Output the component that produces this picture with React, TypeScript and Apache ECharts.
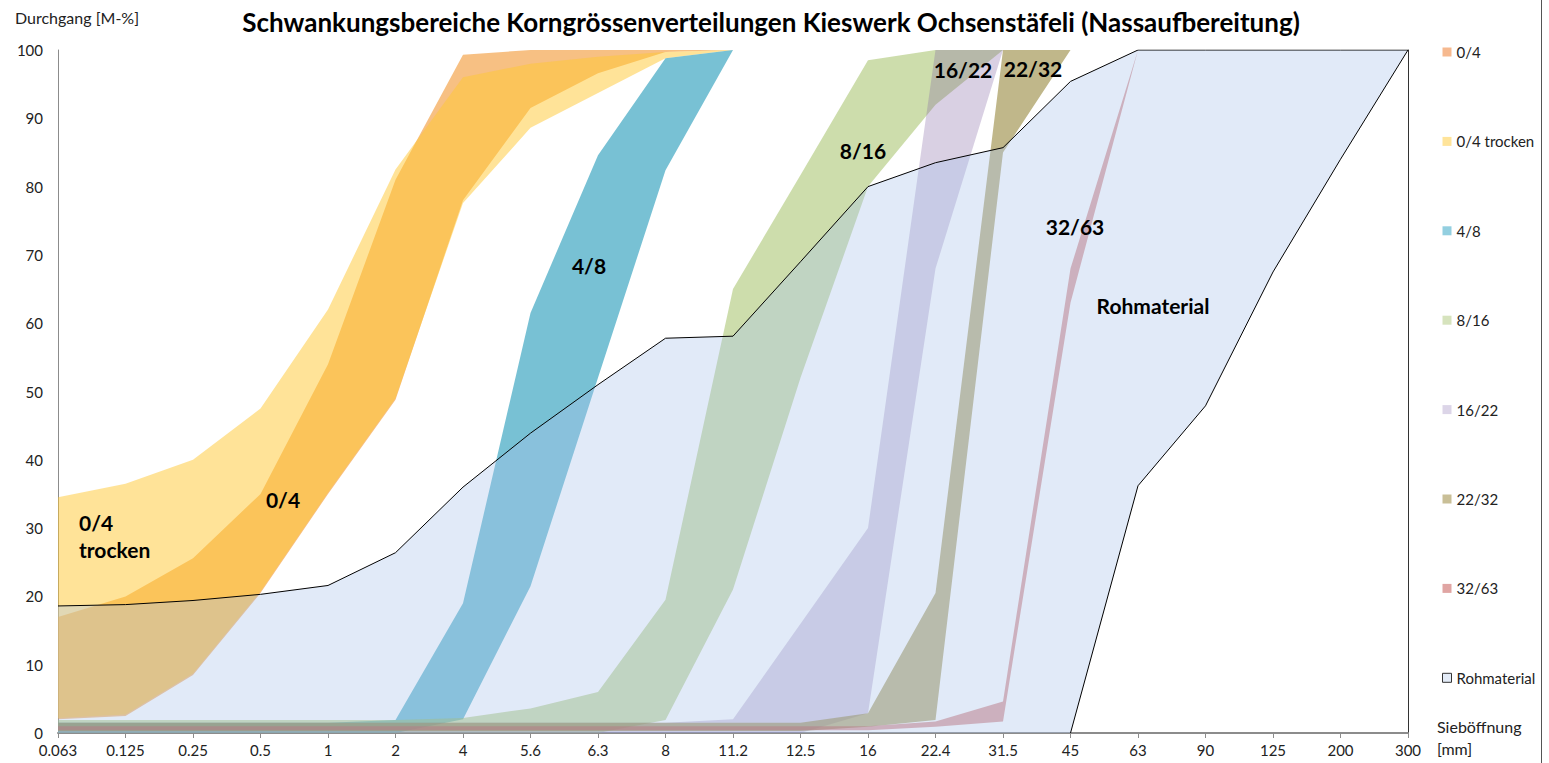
import React, { useEffect, useRef } from "react";
import * as echarts from "echarts";

// Sieve openings [mm] (category axis)
const sieves = ["0.063", "0.125", "0.25", "0.5", "1", "2", "4", "5.6", "6.3", "8", "11.2", "12.5", "16", "22.4", "31.5", "45", "63", "90", "125", "200", "300"];

// Passing [M-%] — lower and upper envelope of each fraction
const lower04 = [2, 2.5, 8.5, 20.5, 35, 48.8, 78, 91.5, 96.6, 99.7, 100, 100, 100, 100, 100, 100, 100, 100, 100, 100, 100];
const upper04 = [17, 20, 25.6, 35, 54, 81, 99.3, 100, 100, 100, 100, 100, 100, 100, 100, 100, 100, 100, 100, 100, 100];

const lower04t = [2.2, 2.7, 8.7, 20.7, 35.2, 49, 77.6, 88.6, 93.7, 98.8, 100, 100, 100, 100, 100, 100, 100, 100, 100, 100, 100];
const upper04t = [34.5, 36.5, 40, 47.5, 62, 82.5, 96, 98, 99, 99.7, 100, 100, 100, 100, 100, 100, 100, 100, 100, 100, 100];

const lower48 = [0, 0, 0, 0, 0, 0, 2, 21.5, 52, 82.4, 100, 100, 100, 100, 100, 100, 100, 100, 100, 100, 100];
const upper48 = [1.5, 1.5, 1.5, 1.5, 1.5, 1.9, 19, 61.5, 84.6, 98.8, 100, 100, 100, 100, 100, 100, 100, 100, 100, 100, 100];

const lower816 = [0, 0, 0, 0, 0, 0, 0, 0, 0, 1.9, 21, 52, 80, 92, 100, 100, 100, 100, 100, 100, 100];
const upper816 = [1.9, 1.9, 1.9, 1.9, 1.9, 1.9, 2.2, 3.6, 6, 19.5, 65, 81.7, 98.5, 100, 100, 100, 100, 100, 100, 100, 100];

const lower1622 = [0, 0, 0, 0, 0, 0, 0, 0, 0, 0, 0, 0, 2.9, 68, 100, 100, 100, 100, 100, 100, 100];
const upper1622 = [1.5, 1.5, 1.5, 1.5, 1.5, 1.5, 1.5, 1.5, 1.5, 1.5, 2, 16, 30, 100, 100, 100, 100, 100, 100, 100, 100];

const lower2232 = [0.3, 0.3, 0.3, 0.3, 0.3, 0.3, 0.3, 0.3, 0.3, 0.3, 0.3, 0.3, 0.9, 1.9, 85, 100, 100, 100, 100, 100, 100];
const upper2232 = [1.5, 1.5, 1.5, 1.5, 1.5, 1.5, 1.5, 1.5, 1.5, 1.5, 1.5, 1.5, 2.9, 20.5, 100, 100, 100, 100, 100, 100, 100];

const lower3263 = [0.4, 0.4, 0.4, 0.4, 0.4, 0.4, 0.4, 0.4, 0.4, 0.4, 0.4, 0.4, 0.4, 0.9, 1.7, 63, 100, 100, 100, 100, 100];
const upper3263 = [1, 1, 1, 1, 1, 1, 1, 1, 1, 1, 1, 1, 1, 1.7, 4.6, 68, 100, 100, 100, 100, 100];

const lowerRoh = [0, 0, 0, 0, 0, 0, 0, 0, 0, 0, 0, 0, 0, 0, 0, 0, 36.2, 47.9, 67.5, 84, 100];
const upperRoh = [18.6, 18.8, 19.4, 20.3, 21.6, 26.4, 36, 43.9, 51, 57.8, 58.1, 69, 80, 83.5, 85.7, 95.4, 100, 100, 100, 100, 100];

const bandNames = ["0/4", "0/4 trocken", "4/8", "8/16", "16/22", "22/32", "32/63", "Rohmaterial"];
const yTicks = [0, 10, 20, 30, 40, 50, 60, 70, 80, 90, 100];

const FONT = "Lato, 'Open Sans', sans-serif";

export default function App() {
  const ref = useRef<HTMLDivElement>(null);

  useEffect(() => {
    document.body.style.margin = "0";
    if (!ref.current) return;
    const chart = echarts.init(ref.current, undefined, { renderer: "svg" });

    const bands = [
      { name: bandNames[0], lower: lower04, upper: upper04, fill: "rgba(240,140,30,0.55)", legend: "#f6b98f" },
      { name: bandNames[1], lower: lower04t, upper: upper04t, fill: "rgba(255,200,50,0.5)", legend: "#ffe49a" },
      { name: bandNames[2], lower: lower48, upper: upper48, fill: "rgba(75,172,198,0.75)", legend: "#93cfe0" },
      { name: bandNames[3], lower: lower816, upper: upper816, fill: "rgba(155,187,89,0.5)", legend: "#d6e3bd" },
      { name: bandNames[4], lower: lower1622, upper: upper1622, fill: "rgba(128,100,162,0.3)", legend: "#dcd5e8" },
      { name: bandNames[5], lower: lower2232, upper: upper2232, fill: "rgba(150,135,60,0.6)", legend: "#c9bf97" },
      { name: bandNames[6], lower: lower3263, upper: upper3263, fill: "rgba(192,80,77,0.5)", legend: "#e0a5a3" },
      { name: bandNames[7], lower: lowerRoh, upper: upperRoh, fill: "rgba(170,195,235,0.35)", legend: "#e3ebf7" },
    ];

    const series: any[] = [];
    bands.forEach((b, k) => {
      const isRoh = b.name === "Rohmaterial";
      series.push({
        name: b.name + " _base",
        type: "line",
        stack: "band" + k,
        data: b.lower,
        symbol: "none",
        silent: true,
        lineStyle: { width: 0, opacity: 0 },
        emphasis: { disabled: true },
      });
      series.push({
        name: b.name,
        type: "line",
        stack: "band" + k,
        data: b.upper.map((u, i) => Math.round((u - b.lower[i]) * 100) / 100),
        symbol: "none",
        silent: true,
        itemStyle: { color: b.legend },
        lineStyle: isRoh ? { color: "#000", width: 1 } : { width: 0, opacity: 0 },
        areaStyle: { color: b.fill, opacity: 1 },
        emphasis: { disabled: true },
      });
    });
    // lower outline of Rohmaterial band
    series.push({
      name: "Rohmaterial _unten",
      type: "line",
      data: lowerRoh.map((v, i) => (v > 0 || (lowerRoh[i + 1] ?? 0) > 0 ? v : null)),
      symbol: "none",
      silent: true,
      connectNulls: false,
      lineStyle: { color: "#000", width: 1 },
      emphasis: { disabled: true },
    });

    const labelStyle = { fontFamily: FONT, fontWeight: "bold" as const, fontSize: 21, fill: "#000" };
    const annotations = [
      { text: "0/4", x: 79, y: 522, align: "left" },
      { text: "trocken", x: 79, y: 549, align: "left" },
      { text: "0/4", x: 283, y: 499, align: "center" },
      { text: "4/8", x: 589, y: 265, align: "center" },
      { text: "8/16", x: 863, y: 150, align: "center" },
      { text: "16/22", x: 963, y: 69, align: "center" },
      { text: "22/32", x: 1033, y: 68, align: "center" },
      { text: "32/63", x: 1075, y: 226, align: "center" },
      { text: "Rohmaterial", x: 1153, y: 305, align: "center" },
    ];

    chart.setOption({
      animation: false,
      grid: { left: 58, right: 141, top: 50, bottom: 30, containLabel: false },
      legend: {
        orient: "vertical",
        left: 1442,
        top: 44,
        padding: 0,
        icon: "rect",
        itemWidth: 9,
        itemHeight: 9,
        itemGap: 73.4,
        selectedMode: false,
        textStyle: { fontFamily: FONT, fontSize: 15, color: "#222", lineHeight: 16 },
        data: bands.map((b) => ({
          name: b.name,
          itemStyle: b.name === "Rohmaterial"
            ? { color: b.legend, borderColor: "#333", borderWidth: 1 }
            : { color: b.legend, borderWidth: 0 },
        })),
      },
      xAxis: {
        type: "category",
        data: sieves,
        boundaryGap: false,
        axisLine: { lineStyle: { color: "#8c8c8c", width: 2 } },
        axisTick: { show: true, inside: false, length: 5, alignWithLabel: true, lineStyle: { color: "#8c8c8c", width: 1 } },
        axisLabel: { fontFamily: FONT, fontSize: 15, color: "#222", margin: 9, interval: 0 },
        splitLine: { show: false },
      },
      yAxis: [
        {
          type: "value",
          min: yTicks[0],
          max: yTicks[yTicks.length - 1],
          interval: yTicks[1] - yTicks[0],
          axisLine: { show: true, lineStyle: { color: "#8c8c8c", width: 1 } },
          axisTick: { show: false },
          axisLabel: { fontFamily: FONT, fontSize: 15, color: "#222", margin: 15 },
          splitLine: { show: false },
        },
        {
          type: "value",
          position: "right",
          min: yTicks[0],
          max: yTicks[yTicks.length - 1],
          interval: yTicks[1] - yTicks[0],
          axisLine: { show: true, lineStyle: { color: "#333", width: 1 } },
          axisTick: { show: false },
          axisLabel: { show: false },
          splitLine: { show: false },
        },
      ],
      series,
      graphic: [
        {
          type: "text",
          x: 771,
          y: 22,
          style: {
            text: "Schwankungsbereiche Korngrössenverteilungen Kieswerk Ochsenstäfeli (Nassaufbereitung)",
            fontFamily: FONT,
            fontWeight: "bold",
            fontSize: 26,
            fill: "#000",
            textAlign: "center",
            textVerticalAlign: "middle",
          },
        },
        {
          type: "text",
          x: 15,
          y: 17,
          style: { text: "Durchgang [M-%]", fontFamily: FONT, fontSize: 16, fill: "#222", textVerticalAlign: "middle" },
        },
        {
          type: "text",
          x: 1437,
          y: 726,
          style: { text: "Sieböffnung", fontFamily: FONT, fontSize: 16, fill: "#222", textVerticalAlign: "middle" },
        },
        {
          type: "text",
          x: 1437,
          y: 748,
          style: { text: "[mm]", fontFamily: FONT, fontSize: 16, fill: "#222", textVerticalAlign: "middle" },
        },
        {
          type: "line",
          shape: { x1: 1541.5, y1: 0, x2: 1541.5, y2: 763 },
          style: { stroke: "#555", lineWidth: 1 },
        },
        ...annotations.map((a) => ({
          type: "text",
          x: a.x,
          y: a.y,
          z: 100,
          style: { ...labelStyle, text: a.text, textAlign: a.align, textVerticalAlign: "middle" },
        })),
      ],
    });

    return () => chart.dispose();
  }, []);

  return <div ref={ref} style={{ width: 1549, height: 763 }} />;
}
